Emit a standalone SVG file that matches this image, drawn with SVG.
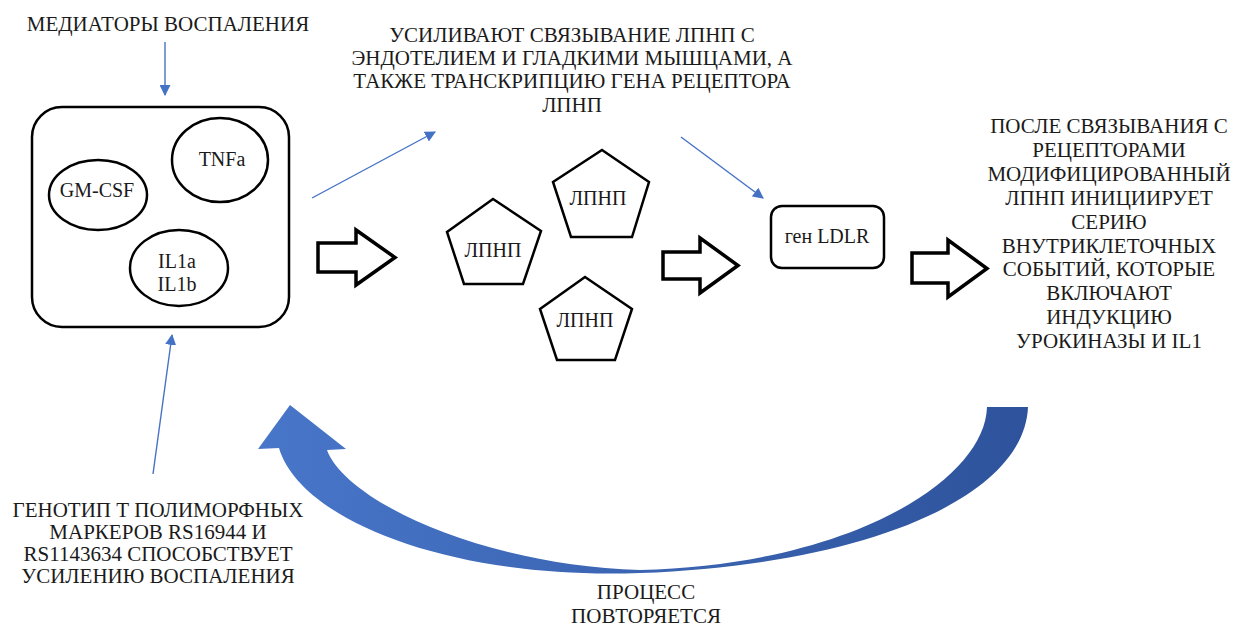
<svg xmlns="http://www.w3.org/2000/svg" width="1238" height="627" viewBox="0 0 1238 627">
<style>
  .t { font-family: "Liberation Serif", "Times New Roman", serif; font-size: 21px; fill: #1a1a1a; text-anchor: middle; }
  .s { font-family: "Liberation Serif", "Times New Roman", serif; font-size: 20px; fill: #1a1a1a; text-anchor: middle; }
  .shape { fill: #ffffff; stroke: #000000; stroke-width: 2.5; }
  .block { fill: #ffffff; stroke: #000000; stroke-width: 3.5; stroke-linejoin: miter; }
  .blue { stroke: #4472C4; stroke-width: 1.4; fill: none; marker-end: url(#ah); }
</style>
<defs>
  <marker id="ah" viewBox="0 0 10 10" refX="9" refY="5" markerWidth="11" markerHeight="11" markerUnits="userSpaceOnUse" orient="auto">
    <path d="M0,0 L10,5 L0,10 Z" fill="#4472C4"/>
  </marker>
  <linearGradient id="cg" x1="0" y1="0" x2="1" y2="0">
    <stop offset="0" stop-color="#4876C9"/>
    <stop offset="1" stop-color="#2E539C"/>
  </linearGradient>
</defs>
<rect width="1238" height="627" fill="#ffffff"/>

<g id="label-mediators">
  <text class="t" x="168" y="31">МЕДИАТОРЫ ВОСПАЛЕНИЯ</text>
</g>

<g id="node-mediators">
  <rect class="shape" x="32" y="107" width="257" height="220" rx="30" ry="30"/>
  <g id="node-gmcsf">
    <ellipse class="shape" cx="98" cy="195" rx="49" ry="35"/>
    <text class="s" x="97" y="197">GM-CSF</text>
  </g>
  <g id="node-tnfa">
    <ellipse class="shape" cx="220" cy="160" rx="48" ry="42"/>
    <text class="s" x="222" y="166">TNFa</text>
  </g>
  <g id="node-il1">
    <ellipse class="shape" cx="179" cy="268" rx="49" ry="38"/>
    <text class="s" x="177" y="268">IL1a</text>
    <text class="s" x="177" y="291">IL1b</text>
  </g>
</g>

<g id="label-enhance">
  <text class="t" x="572" y="42">УСИЛИВАЮТ СВЯЗЫВАНИЕ ЛПНП С</text>
  <text class="t" x="572" y="65">ЭНДОТЕЛИЕМ И ГЛАДКИМИ МЫШЦАМИ, А</text>
  <text class="t" x="572" y="88">ТАКЖЕ ТРАНСКРИПЦИЮ ГЕНА РЕЦЕПТОРА</text>
  <text class="t" x="572" y="112">ЛПНП</text>
</g>

<g id="node-ldl1">
  <polygon class="shape" points="493,199 541,231 523,284 464,284 447,232"/>
  <text class="s" x="493" y="257">ЛПНП</text>
</g>
<g id="node-ldl2">
  <polygon class="shape" points="602,150 649,182 632,237 571,237 553,182"/>
  <text class="s" x="598" y="205">ЛПНП</text>
</g>
<g id="node-ldl3">
  <polygon class="shape" points="585,277 632,309 615,360 557,360 540,309"/>
  <text class="s" x="585" y="327">ЛПНП</text>
</g>

<g id="node-ldlr">
  <rect class="shape" x="771" y="206" width="113" height="62" rx="11" ry="11"/>
  <text class="s" x="827" y="243">ген LDLR</text>
</g>

<g id="label-after">
  <text class="t" x="1109" y="133">ПОСЛЕ СВЯЗЫВАНИЯ С</text>
  <text class="t" x="1109" y="157">РЕЦЕПТОРАМИ</text>
  <text class="t" x="1109" y="181">МОДИФИЦИРОВАННЫЙ</text>
  <text class="t" x="1109" y="205">ЛПНП ИНИЦИИРУЕТ</text>
  <text class="t" x="1109" y="229">СЕРИЮ</text>
  <text class="t" x="1109" y="253">ВНУТРИКЛЕТОЧНЫХ</text>
  <text class="t" x="1109" y="276">СОБЫТИЙ, КОТОРЫЕ</text>
  <text class="t" x="1109" y="300">ВКЛЮЧАЮТ</text>
  <text class="t" x="1109" y="324">ИНДУКЦИЮ</text>
  <text class="t" x="1109" y="348">УРОКИНАЗЫ И IL1</text>
</g>

<g id="label-genotype">
  <text class="t" x="158" y="517">ГЕНОТИП Т ПОЛИМОРФНЫХ</text>
  <text class="t" x="158" y="539">МАРКЕРОВ RS16944 И</text>
  <text class="t" x="158" y="561">RS1143634 СПОСОБСТВУЕТ</text>
  <text class="t" x="158" y="583">УСИЛЕНИЮ ВОСПАЛЕНИЯ</text>
</g>

<g id="label-repeat">
  <text class="t" x="646" y="599">ПРОЦЕСС</text>
  <text class="t" x="646" y="623">ПОВТОРЯЕТСЯ</text>
</g>

<g id="connectors">
  <line class="blue" x1="165" y1="42" x2="165" y2="95"/>
  <line class="blue" x1="312" y1="198" x2="435" y2="132"/>
  <line class="blue" x1="681" y1="137" x2="763" y2="198"/>
  <line class="blue" x1="153" y1="474" x2="172" y2="335"/>
  <polygon class="block" points="318,243 356,243 356,230 395,257.5 356,285 356,272 318,272"/>
  <polygon class="block" points="663,252 700,252 700,238 738,265.5 700,293 700,279 663,279"/>
  <polygon class="block" points="912,253 948,253 948,240 987,268.5 948,297 948,283 912,283"/>
  <path d="M1028,407 C1024,500 860,565 640,573 C450,580 300,520 279,448 L258,449 L290,405 L346,449 L327,450 C345,500 480,565 640,570 C850,565 985,480 987,407 Z" fill="url(#cg)"/>
</g>
</svg>
